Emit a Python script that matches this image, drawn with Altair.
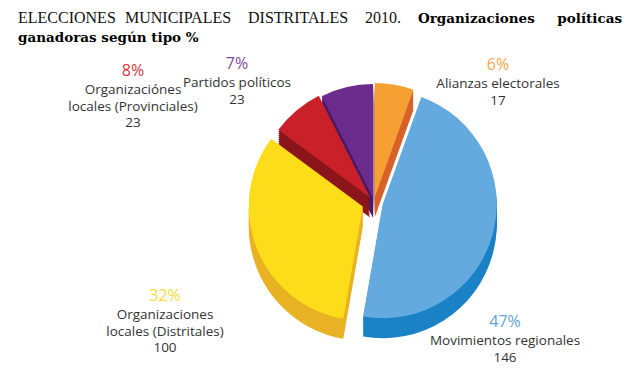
import altair as alt
import pandas as pd

# ---------------- data ----------------
categories = [
    "Alianzas electorales",
    "Movimientos regionales",
    "Organizaciones locales (Distritales)",
    "Organizaciónes locales (Provinciales)",
    "Partidos políticos",
]
label_names = [
    "Alianzas electorales",
    "Movimientos regionales",
    "Organizaciones\nlocales (Distritales)",
    "Organizaciónes\nlocales (Provinciales)",
    "Partidos políticos",
]
counts = [17, 146, 100, 23, 23]
percents = [6, 47, 32, 8, 7]

title_regular = ["ELECCIONES", "MUNICIPALES", "DISTRITALES", "2010."]
title_bold_1 = ["Organizaciones", "políticas"]
title_line_2 = "ganadoras según tipo %"

# ---------------- styles / layout ----------------
top_colors = ["#F6A033", "#64AADE", "#FDDC1A", "#C9202A", "#6B2C8E"]
side_colors = ["#D8612A", "#1B82C6", "#E8B224", "#8A161C", "#461A66"]
pct_colors = ["#F5A64A", "#5FA3D9", "#F7DA3A", "#D4343D", "#7C4CA2"]
TEXT_COLOR = "#333333"
FONT = "Open Sans"

W, H = 624, 360
CX, CY = 366, 194
R = 114
DEPTH = 20
EXPLODE = [5, 9, 12, 6, 4]
LABEL_X = [490, 497, 157, 125, 229]
LABEL_Y = [57, 314, 288, 63, 56]

TITLE_X_REG = [10, 117, 240, 357]
TITLE_X_BOLD = [410, 614]

df = pd.DataFrame({
    "cat": categories,
    "name": label_names,
    "count": counts,
    "pct": [f"{p}%" for p in percents],
    "order": list(range(len(categories))),
    "explode": EXPLODE,
    "lx": LABEL_X,
    "ly": LABEL_Y,
})
df["namecount"] = df["name"] + "\n" + df["count"].astype(str)

base = alt.Chart(df).transform_joinaggregate(
    total="sum(count)"
).transform_window(
    cum="sum(count)", sort=[alt.SortField("order")], frame=[None, 0]
).transform_calculate(
    t0="(datum.cum - datum.count) / datum.total * 2 * PI",
    t1="datum.cum / datum.total * 2 * PI",
).transform_calculate(
    mid="(datum.t0 + datum.t1) / 2"
).transform_calculate(
    px=f"{CX} + datum.explode * sin(datum.mid)",
    py=f"{CY} - datum.explode * cos(datum.mid)",
)

layers = []
for d in range(DEPTH, 0, -2):
    layers.append(
        base.transform_calculate(pyd=f"datum.py + {d}").mark_arc(radius=R).encode(
            theta=alt.Theta("t0:Q", scale=None),
            theta2="t1:Q",
            x=alt.X("px:Q", scale=None, axis=None),
            y=alt.Y("pyd:Q", scale=None, axis=None),
            color=alt.Color("cat:N", scale=alt.Scale(domain=categories, range=side_colors), legend=None),
        )
    )

top = base.mark_arc(radius=R).encode(
    theta=alt.Theta("t0:Q", scale=None),
    theta2="t1:Q",
    x=alt.X("px:Q", scale=None, axis=None),
    y=alt.Y("py:Q", scale=None, axis=None),
    color=alt.Color("cat:N", scale=alt.Scale(domain=categories, range=top_colors), legend=None),
)
layers.append(top)

pct_text = alt.Chart(df).mark_text(font=FONT, fontSize=16, baseline="middle", align="center").encode(
    x=alt.X("lx:Q", scale=None, axis=None),
    y=alt.Y("ly:Q", scale=None, axis=None),
    text="pct:N",
    color=alt.Color("cat:N", scale=alt.Scale(domain=categories, range=pct_colors), legend=None),
)
name_text = alt.Chart(df).mark_text(
    font=FONT, fontSize=13.5, baseline="top", align="center", lineBreak="\n", lineHeight=16.5,
    color=TEXT_COLOR, dy=12
).encode(
    x=alt.X("lx:Q", scale=None, axis=None),
    y=alt.Y("ly:Q", scale=None, axis=None),
    text="namecount:N",
)
layers += [pct_text, name_text]

# title (justified first line: one text per word)
one = pd.DataFrame({"k": [0]})
TF_REG = "Liberation Serif"
TF_BOLD = "DejaVu Serif"
for word, x in zip(title_regular, TITLE_X_REG):
    layers.append(alt.Chart(one).mark_text(text=word, font=TF_REG, fontSize=16, align="left",
                                           baseline="alphabetic", color="#111").encode(
        x=alt.value(x), y=alt.value(15)))
layers.append(alt.Chart(one).mark_text(text=title_bold_1[0], font=TF_BOLD, fontSize=13.5, fontWeight="bold",
                                       align="left", baseline="alphabetic", color="#000").encode(
    x=alt.value(TITLE_X_BOLD[0]), y=alt.value(15)))
layers.append(alt.Chart(one).mark_text(text=title_bold_1[1], font=TF_BOLD, fontSize=13.5, fontWeight="bold",
                                       align="right", baseline="alphabetic", color="#000").encode(
    x=alt.value(TITLE_X_BOLD[1]), y=alt.value(15)))
layers.append(alt.Chart(one).mark_text(text=title_line_2, font=TF_BOLD, fontSize=13.5, fontWeight="bold",
                                       align="left", baseline="alphabetic", color="#000").encode(
    x=alt.value(10), y=alt.value(34)))

chart = alt.layer(*layers).properties(
    width=W, height=H, autosize=alt.AutoSizeParams(type="none"), padding=0
).configure_view(stroke=None).resolve_scale(color="independent")

chart.save("out.html", embed_options={"renderer": "svg", "actions": False})
